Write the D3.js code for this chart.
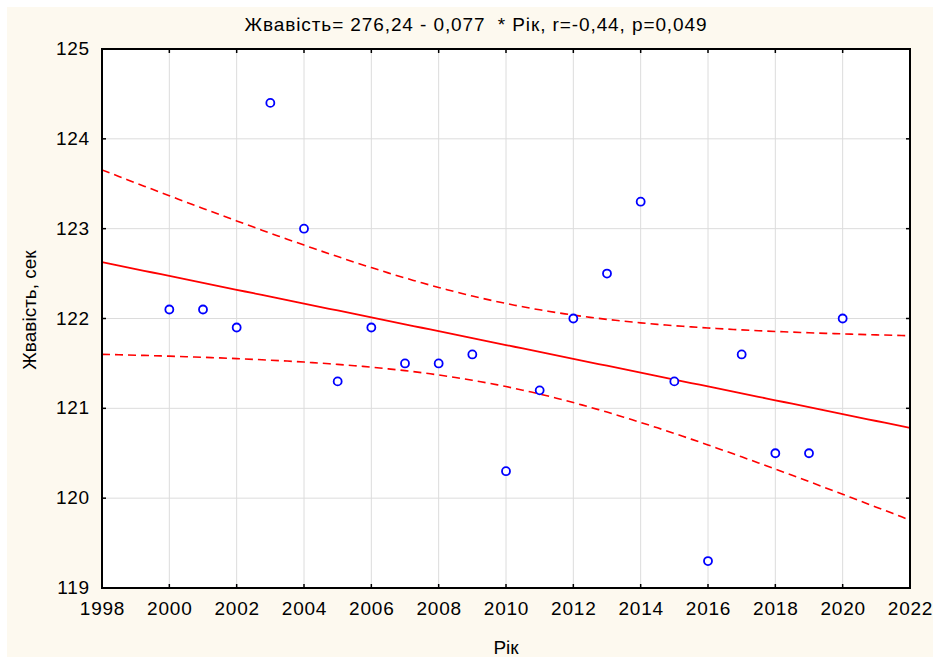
<!DOCTYPE html>
<meta charset="utf-8">
<style>
  body { margin: 0; background: #fff; }
  svg text { font-family: 'Liberation Sans', Arial, sans-serif; fill: #000; }
</style>
<div id="chart"></div>
<script src="https://d3js.org/d3.v7.min.js"></script>
<script>
// data
var years = [2000, 2001, 2002, 2003, 2004, 2005, 2006, 2007, 2008, 2009, 2010,
             2011, 2012, 2013, 2014, 2015, 2016, 2017, 2018, 2019, 2020];
var values = [122.1, 122.1, 121.9, 124.4, 123.0, 121.3, 121.9, 121.5, 121.5, 121.6, 120.3,
              121.2, 122.0, 122.5, 123.3, 121.3, 119.3, 121.6, 120.5, 120.5, 122.0];
var xTicks = [1998, 2000, 2002, 2004, 2006, 2008, 2010, 2012, 2014, 2016, 2018, 2020, 2022];
var yTicks = [119, 120, 121, 122, 123, 124, 125];
var title = "Жвавість= 276,24 - 0,077  * Рік, r=-0,44, p=0,049";

var W = 933, H = 657;
var plot = {left: 102, top: 49, right: 910, bottom: 588};

var svg = d3.select("#chart").append("svg")
  .attr("width", W).attr("height", H);

svg.append("rect").attr("x", 7).attr("y", 7).attr("width", W - 7).attr("height", H - 7)
  .attr("fill", "#fdf9ef");
svg.append("rect").attr("x", plot.left).attr("y", plot.top)
  .attr("width", plot.right - plot.left).attr("height", plot.bottom - plot.top)
  .attr("fill", "#fff");

var x = d3.scaleLinear().domain([1998, 2022]).range([plot.left, plot.right]);
var y = d3.scaleLinear().domain([119, 125]).range([plot.bottom, plot.top]);

// grid
svg.append("g").selectAll("line").data(xTicks.slice(1, -1)).enter().append("line")
  .attr("x1", d => x(d)).attr("x2", d => x(d))
  .attr("y1", plot.top).attr("y2", plot.bottom)
  .attr("stroke", "#dcdcdc").attr("stroke-width", 1);
svg.append("g").selectAll("line").data(yTicks.slice(1, -1)).enter().append("line")
  .attr("x1", plot.left).attr("x2", plot.right)
  .attr("y1", d => y(d)).attr("y2", d => y(d))
  .attr("stroke", "#dcdcdc").attr("stroke-width", 1);

// regression + 95% confidence bands
var n = years.length;
var mx = d3.mean(years), my = d3.mean(values);
var sxx = d3.sum(years, d => (d - mx) * (d - mx));
var sxy = d3.sum(years, (d, i) => (d - mx) * (values[i] - my));
var b = sxy / sxx, a = my - b * mx;
var sse = d3.sum(years, (d, i) => Math.pow(values[i] - (a + b * d), 2));
var se = Math.sqrt(sse / (n - 2));
var tcrit = 2.093; // t(0.975, 19)
var xs = d3.range(1998, 2022.01, 0.25);
var band = xs.map(function(v) {
  var fit = a + b * v;
  var h = tcrit * se * Math.sqrt(1 / n + (v - mx) * (v - mx) / sxx);
  return {x: v, fit: fit, lo: fit - h, hi: fit + h};
});

svg.append("clipPath").attr("id", "clip").append("rect")
  .attr("x", plot.left).attr("y", plot.top)
  .attr("width", plot.right - plot.left).attr("height", plot.bottom - plot.top);

var g = svg.append("g").attr("clip-path", "url(#clip)");
g.append("path").datum(band)
  .attr("d", d3.line().x(d => x(d.x)).y(d => y(d.fit)))
  .attr("fill", "none").attr("stroke", "#ff0000").attr("stroke-width", 1.8);
["lo", "hi"].forEach(function(k) {
  g.append("path").datum(band)
    .attr("d", d3.line().x(d => x(d.x)).y(d => y(d[k])))
    .attr("fill", "none").attr("stroke", "#ff0000").attr("stroke-width", 1.6)
    .attr("stroke-dasharray", "8,5");
});

// points
svg.append("g").selectAll("circle").data(years).enter().append("circle")
  .attr("cx", d => x(d)).attr("cy", (d, i) => y(values[i])).attr("r", 4)
  .attr("fill", "#fff").attr("stroke", "#0000ff").attr("stroke-width", 1.8);

// frame and inner ticks
var axes = svg.append("g").attr("stroke", "#000");
axes.append("rect").attr("x", plot.left).attr("y", plot.top)
  .attr("width", plot.right - plot.left).attr("height", plot.bottom - plot.top)
  .attr("fill", "none").attr("stroke-width", 2);
xTicks.forEach(function(t) {
  axes.append("line").attr("x1", x(t)).attr("x2", x(t))
    .attr("y1", plot.bottom).attr("y2", plot.bottom - 4).attr("stroke-width", 1.5);
  axes.append("line").attr("x1", x(t)).attr("x2", x(t))
    .attr("y1", plot.top).attr("y2", plot.top + 4).attr("stroke-width", 1.5);
});
yTicks.forEach(function(t) {
  axes.append("line").attr("x1", plot.left).attr("x2", plot.left + 4)
    .attr("y1", y(t)).attr("y2", y(t)).attr("stroke-width", 1.5);
  axes.append("line").attr("x1", plot.right).attr("x2", plot.right - 4)
    .attr("y1", y(t)).attr("y2", y(t)).attr("stroke-width", 1.5);
});

// tick labels
svg.append("g").selectAll("text").data(xTicks).enter().append("text")
  .attr("x", d => x(d) + 0.5).attr("y", plot.bottom + 27)
  .attr("text-anchor", "middle").style("font-size", "19px")
  .style("letter-spacing", "0.8px")
  .text(d => d);
svg.append("g").selectAll("text").data(yTicks).enter().append("text")
  .attr("x", plot.left - 12).attr("y", d => y(d) + 6)
  .attr("text-anchor", "end").style("font-size", "19px")
  .style("letter-spacing", "0.8px")
  .text(d => d);

// titles
svg.append("text").attr("x", 476).attr("y", 31)
  .attr("text-anchor", "middle").style("font-size", "19px")
  .style("letter-spacing", "0.9px").style("white-space", "pre")
  .text(title);
svg.append("text").attr("x", 506).attr("y", 654)
  .attr("text-anchor", "middle").style("font-size", "19px")
  .text("Рік");
svg.append("text").attr("transform", "translate(36,310) rotate(-90)")
  .attr("text-anchor", "middle").style("font-size", "19px")
  .text("Жвавість, сек");
</script>
